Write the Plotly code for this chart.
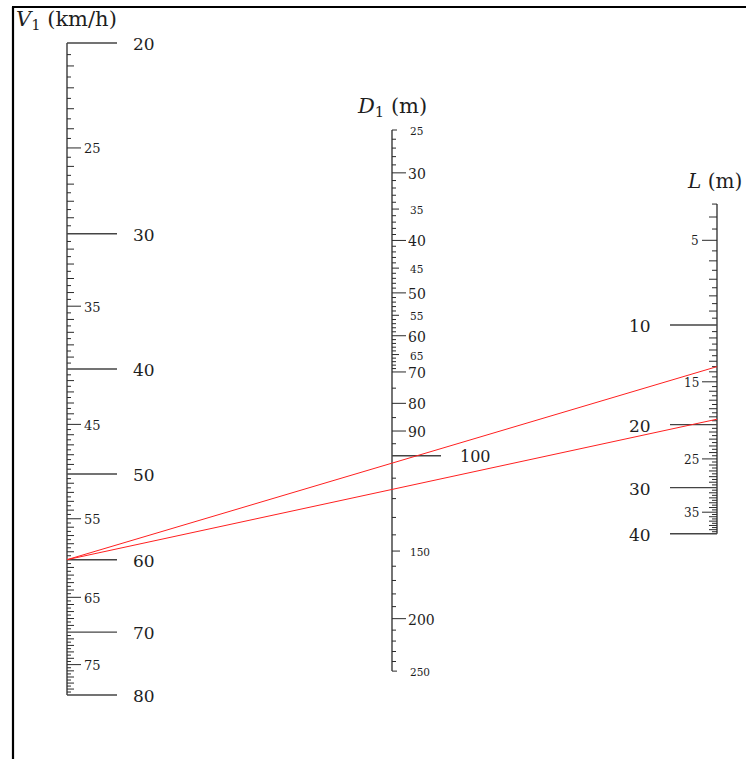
import numpy as np
import plotly.graph_objects as go

# ---------------- data ----------------
V1_MIN, V1_MAX = 20, 80
V1_BIG = [20, 30, 40, 50, 60, 70, 80]
V1_MID = [25, 35, 45, 55, 65, 75]

D1_MIN, D1_MAX = 25, 250
D1_BIG = [100]
D1_MID = [30, 40, 50, 60, 70, 80, 90, 200]
D1_SMALL = [25, 35, 45, 55, 65, 150, 250]

L_MIN, L_MAX = 3.5, 40
L_BIG = [10, 20, 30, 40]
L_MID = [5, 15, 25, 35]

ISO_V1 = [60, 60]
ISO_L = [13.5, 19.3]

# ---------------- nomogram scales ----------------
XV, XD, XL = 67, 392, 717


def yV(v):
    return 43 + 470.3 * np.log(np.asarray(v, float) / 20.0)


def yD(d):
    return 130 + 235.0 * np.log(np.asarray(d, float) / 25.0)


def yL(l):
    return 240.3 + 174.5 * np.log((np.asarray(l, float) + 3.0) / 8.0)


AXC = "#2a2a2a"
TXT = "#1e1e1e"
FONT = "DejaVu Serif"

fig = go.Figure()
ann = []


def segs(x0, x1, ys):
    xs, yy = [], []
    for y in ys:
        xs += [x0, x1, None]
        yy += [float(y), float(y), None]
    return xs, yy


def add_lines(xs, ys, color=AXC, width=1.0):
    fig.add_trace(go.Scatter(x=xs, y=ys, mode="lines", hoverinfo="skip",
                             line=dict(color=color, width=width), showlegend=False))


def label(x, y, text, size, anchor):
    ann.append(dict(x=x, y=float(y), text=text, showarrow=False, xanchor=anchor,
                    yanchor="middle", font=dict(family=FONT, size=size, color=TXT)))


# ---- V1 axis ----
add_lines([XV, XV], [float(yV(V1_MIN)), float(yV(V1_MAX))], width=1.3)
v_all = np.arange(V1_MIN, V1_MAX + 0.01, 0.5)
v_int = [v for v in v_all if v == int(v) and v not in V1_BIG and v not in V1_MID]
v_half = [v for v in v_all if v != int(v)]
xs, ys = segs(XV, XV + 7, yV(v_int)); add_lines(xs, ys)
xs, ys = segs(XV, XV + 4, yV(v_half)); add_lines(xs, ys)
xs, ys = segs(XV, XV + 14, yV(V1_MID)); add_lines(xs, ys)
xs, ys = segs(XV, XV + 50, yV(V1_BIG)); add_lines(xs, ys, color="#444", width=1.4)
for v in V1_BIG:
    label(131, yV(v) + 1, str(v), 17, "left")
for v in V1_MID:
    label(82, yV(v) + 1, str(v), 13, "left")

# ---- D1 axis ----
add_lines([XD, XD], [float(yD(D1_MIN)), float(yD(D1_MAX))], width=1.3)
d_ticks = list(range(25, 70)) + list(range(70, 100, 5)) + list(range(100, 251, 10))
d_minor = [d for d in d_ticks if d not in D1_BIG + D1_MID + D1_SMALL]
xs, ys = segs(XD, XD + 4, yD(d_minor)); add_lines(xs, ys)
small_tick = [d for d in D1_SMALL if d not in (25, 250, 150)]
xs, ys = segs(XD, XD + 7, yD(small_tick)); add_lines(xs, ys)
xs, ys = segs(XD, XD + 5, yD([25, 250])); add_lines(xs, ys)
xs, ys = segs(XD, XD + 8, yD([150])); add_lines(xs, ys)
xs, ys = segs(XD, XD + 14, yD(D1_MID)); add_lines(xs, ys)
xs, ys = segs(XD, XD + 49, yD(D1_BIG)); add_lines(xs, ys, color="#444", width=1.4)
for d in D1_MID:
    label(406, yD(d) + 1, str(d), 14, "left")
for d in D1_SMALL:
    label(408, yD(d) + 1, str(d), 10.5, "left")
for d in D1_BIG:
    label(458, yD(d) + 1, str(d), 16, "left")

# ---- L axis ----
add_lines([XL, XL], [float(yL(L_MIN)), float(yL(L_MAX))], width=1.3)
l_all = np.arange(L_MIN, L_MAX + 0.01, 0.5)
l_int = [l for l in l_all if l == int(l) and l not in L_BIG and l not in L_MID]
l_half = [l for l in l_all if l != int(l)]
xs, ys = segs(XL - 8, XL, yL(l_int)); add_lines(xs, ys)
xs, ys = segs(XL - 5, XL, yL(l_half)); add_lines(xs, ys)
xs, ys = segs(XL - 15, XL, yL(L_MID)); add_lines(xs, ys)
xs, ys = segs(XL - 47, XL, yL(L_BIG)); add_lines(xs, ys, color="#444", width=1.4)
for l in L_BIG:
    label(653, yL(l) + 1, str(l), 17, "right")
for l in L_MID:
    label(701, yL(l) + 1, str(l), 12, "right")

# ---- isopleths ----
for v, l in zip(ISO_V1, ISO_L):
    add_lines([XV, XL], [float(yV(v)), float(yL(l))], color="#ff2020", width=1.0)

# ---- titles ----
ann.append(dict(x=14, y=20, text="<i>V</i><sub>1</sub> (km/h)", showarrow=False,
                xanchor="left", yanchor="middle", font=dict(family=FONT, size=21, color=TXT)))
ann.append(dict(x=392, y=107, text="<i>D</i><sub>1</sub> (m)", showarrow=False,
                xanchor="center", yanchor="middle", font=dict(family=FONT, size=21, color=TXT)))
ann.append(dict(x=744, y=181, text="<i>L</i> (m)", showarrow=False,
                xanchor="right", yanchor="middle", font=dict(family=FONT, size=20, color=TXT)))

fig.update_layout(
    width=746, height=759, margin=dict(l=0, r=0, t=0, b=0),
    paper_bgcolor="white", plot_bgcolor="white",
    xaxis=dict(range=[0, 746], visible=False, fixedrange=True),
    yaxis=dict(range=[759, 0], visible=False, fixedrange=True),
    annotations=ann,
    shapes=[
        dict(type="line", x0=13, x1=13, y0=7, y1=800, line=dict(color="black", width=2.2)),
        dict(type="line", x0=12, x1=800, y0=7, y1=7, line=dict(color="black", width=2.2)),
    ],
)

fig.write_html("out.html", config={"displayModeBar": False},
               post_script="document.body.style.margin='0px';document.body.style.overflow='hidden';")
